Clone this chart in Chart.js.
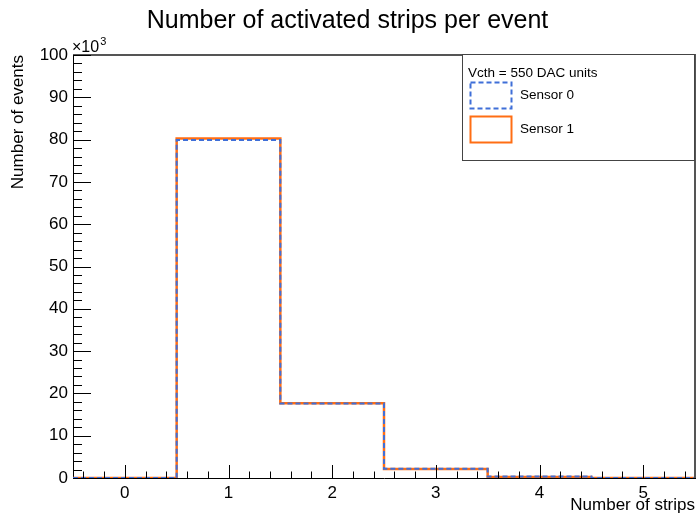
<!DOCTYPE html>
<html>
<head>
<meta charset="utf-8">
<script src="https://cdn.jsdelivr.net/npm/chart.js@4.4.1/dist/chart.umd.min.js"></script>
<style>
  body { margin: 0; background: #fff; }
  canvas { display: block; }
</style>
</head>
<body>
<canvas id="strips-chart" width="697" height="519"></canvas>
<script>
// histogram bins (number of activated strips) and counts per sensor
const binCenters = [0, 1, 2, 3, 4, 5];
const binWidth = 1;
const sensor0Counts = [0, 79900, 17600, 2200, 350, 20];
const sensor1Counts = [0, 80250, 17650, 2100, 250, 15];

const xTickValues = [0, 1, 2, 3, 4, 5];
const yTickValues = [0, 10000, 20000, 30000, 40000, 50000, 60000, 70000, 80000, 90000, 100000];

const legendHeader = 'Vcth = 550 DAC units';
const FONT = '"Liberation Sans", Arial, Helvetica, sans-serif';

Chart.defaults.font.family = FONT;
Chart.defaults.color = '#000';

// one point per low bin edge + the last high edge, drawn as steps
function histSteps(counts) {
  const pts = binCenters.map((c, i) => ({ x: c - binWidth / 2, y: counts[i] }));
  const last = binCenters.length - 1;
  pts.push({ x: binCenters[last] + binWidth / 2, y: counts[last] });
  return pts;
}

// ROOT-like frame, inner ticks, x10^3 and legend box
const rootStyle = {
  id: 'rootStyle',
  afterDraw(chart) {
    const { ctx, chartArea: a, scales: { x, y } } = chart;
    ctx.save();

    // top and right sides of the frame
    ctx.strokeStyle = '#555';
    ctx.lineWidth = 2;
    ctx.beginPath();
    ctx.moveTo(a.left, a.top);
    ctx.lineTo(a.right, a.top);
    ctx.lineTo(a.right, a.bottom);
    ctx.stroke();

    // y ticks: major every 10k, minor every 2k
    ctx.strokeStyle = '#000';
    ctx.lineWidth = 1;
    ctx.beginPath();
    for (let k = 0; k <= 50; k++) {
      const py = Math.round(y.getPixelForValue(k * 2000)) + 0.5;
      const len = k % 5 === 0 ? 18 : 9;
      ctx.moveTo(a.left, py);
      ctx.lineTo(a.left + len, py);
    }
    // x ticks: major every 1, minor every 0.2
    for (let k = -2; k <= 27; k++) {
      const px = Math.round(x.getPixelForValue(k * 0.2)) + 0.5;
      const len = k % 5 === 0 ? 13 : 6.5;
      ctx.moveTo(px, a.bottom);
      ctx.lineTo(px, a.bottom - len);
    }
    ctx.stroke();

    // x10^3 exponent on the y axis
    ctx.fillStyle = '#000';
    ctx.textAlign = 'left';
    ctx.textBaseline = 'alphabetic';
    ctx.font = '16px ' + FONT;
    ctx.fillText('\u00d710', a.left - 1, a.top - 3);
    const w = ctx.measureText('\u00d710').width;
    ctx.font = '11px ' + FONT;
    ctx.fillText('3', a.left - 1 + w + 1, a.top - 10);

    // legend box (inside the frame, top right)
    const lx = 462, ly = 54, lw = 232, lh = 106;
    ctx.fillStyle = '#fff';
    ctx.fillRect(lx, ly, lw, lh);
    ctx.strokeStyle = '#444';
    ctx.lineWidth = 1;
    ctx.strokeRect(lx + 0.5, ly + 0.5, lw, lh);

    ctx.fillStyle = '#000';
    ctx.textBaseline = 'middle';
    ctx.font = '13.5px ' + FONT;
    ctx.fillText(legendHeader, lx + 6, ly + 19);

    const rows = [ly + 41, ly + 75];
    chart.data.datasets.forEach((ds, i) => {
      const ry = rows[i];
      ctx.save();
      ctx.strokeStyle = ds.borderColor;
      ctx.lineWidth = 2;
      ctx.setLineDash(ds.borderDash || []);
      ctx.strokeRect(lx + 8.5, ry - 12.5, 41, 26);
      ctx.restore();
      ctx.fillStyle = '#000';
      ctx.fillText(ds.label, lx + 58, ry);
    });

    ctx.restore();
  }
};

new Chart(document.getElementById('strips-chart').getContext('2d'), {
  type: 'line',
  data: {
    datasets: [
      {
        label: 'Sensor 0',
        data: histSteps(sensor0Counts),
        borderColor: '#3f6fd8',
        borderWidth: 2,
        borderDash: [5, 3],
        stepped: 'before',
        pointRadius: 0,
        fill: false,
        order: 0,
      },
      {
        label: 'Sensor 1',
        data: histSteps(sensor1Counts),
        borderColor: '#ff6e14',
        borderWidth: 2.5,
        stepped: 'before',
        pointRadius: 0,
        fill: false,
        order: 1,
      },
    ],
  },
  options: {
    responsive: false,
    animation: false,
    devicePixelRatio: 1,
    layout: { padding: { left: 0, right: 2, top: 0, bottom: 0 } },
    plugins: {
      legend: { display: false },
      tooltip: { enabled: false },
      title: {
        display: true,
        text: 'Number of activated strips per event',
        color: '#000',
        font: { size: 25, weight: 'normal' },
        padding: { top: 6, bottom: 19 },
      },
    },
    scales: {
      x: {
        type: 'linear',
        min: -0.5,
        max: 5.5,
        grid: { display: false, drawTicks: false },
        border: { display: true, color: '#000', width: 1 },
        afterBuildTicks: (s) => { s.ticks = xTickValues.map((v) => ({ value: v })); },
        afterFit: (s) => { s.height = 41; },
        ticks: { font: { size: 17 }, padding: 5, maxRotation: 0, autoSkip: false },
        title: {
          display: true,
          text: 'Number of strips',
          align: 'end',
          font: { size: 17 },
          padding: { top: 0, bottom: 3 },
        },
      },
      y: {
        type: 'linear',
        min: 0,
        max: 100000,
        grid: { display: false, drawTicks: false },
        border: { display: true, color: '#000', width: 1 },
        afterBuildTicks: (s) => { s.ticks = yTickValues.map((v) => ({ value: v })); },
        afterFit: (s) => { s.width = 73; },
        ticks: {
          font: { size: 17 },
          padding: 5,
          autoSkip: false,
          callback: (v) => String(v / 1000),
        },
        title: {
          display: true,
          text: 'Number of events',
          align: 'end',
          font: { size: 17 },
          padding: { top: 8, bottom: 0 },
        },
      },
    },
  },
  plugins: [rootStyle],
});
</script>
</body>
</html>
